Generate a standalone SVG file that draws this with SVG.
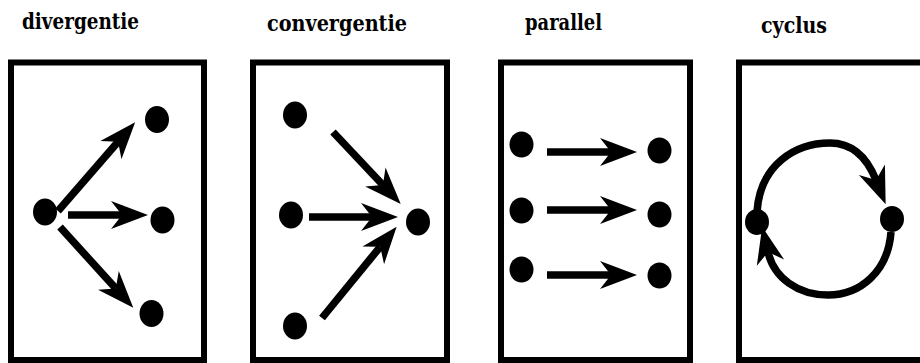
<svg xmlns="http://www.w3.org/2000/svg" width="920" height="363" viewBox="0 0 920 363">
<style>
.box{fill:none;stroke:#000;stroke-width:6}
.node{fill:#000}
.edge{fill:none;stroke:#000;stroke-width:7.5;marker-end:url(#ah)}
.lbl{font-family:"DejaVu Serif","Liberation Serif",serif;font-weight:bold;font-size:23px;fill:#000}
</style>
<defs>
<marker id="ah" markerUnits="userSpaceOnUse" markerWidth="46" markerHeight="34" viewBox="-13 -17 46 34" refX="0" refY="0" orient="auto" overflow="visible">
<path d="M26,0 L-11,-14 L0,0 L-11,14 Z" fill="#000"/>
</marker>
</defs>
<rect width="920" height="363" fill="#fff"/>
<g id="labels">
<text class="lbl" x="22" y="29" textLength="117" lengthAdjust="spacingAndGlyphs">divergentie</text>
<text class="lbl" x="267" y="31" textLength="140" lengthAdjust="spacingAndGlyphs">convergentie</text>
<text class="lbl" x="525" y="30" textLength="77" lengthAdjust="spacingAndGlyphs">parallel</text>
<text class="lbl" x="761" y="33" textLength="66" lengthAdjust="spacingAndGlyphs">cyclus</text>
</g>
<g id="panel-divergentie">
<rect class="box" x="11" y="62.5" width="193" height="297.5"/>
<g id="d-src"><ellipse class="node" cx="45" cy="212" rx="12" ry="13.5"/></g>
<g id="d-t1"><ellipse class="node" cx="157" cy="119.5" rx="12" ry="13.5"/></g>
<g id="d-t2"><ellipse class="node" cx="162.5" cy="220" rx="12" ry="13.5"/></g>
<g id="d-t3"><ellipse class="node" cx="151.5" cy="313.5" rx="12" ry="13.5"/></g>
</g>
<g id="panel-convergentie">
<rect class="box" x="253" y="62.5" width="194" height="297.5"/>
<g id="c-s1"><ellipse class="node" cx="295" cy="115" rx="12" ry="13.5"/></g>
<g id="c-s2"><ellipse class="node" cx="291" cy="215" rx="12" ry="13.5"/></g>
<g id="c-s3"><ellipse class="node" cx="295" cy="326" rx="12" ry="13.5"/></g>
<g id="c-t"><ellipse class="node" cx="418" cy="222" rx="12" ry="13.5"/></g>
</g>
<g id="panel-parallel">
<rect class="box" x="501" y="62.5" width="189" height="297.5"/>
<g id="p-s1"><ellipse class="node" cx="521.5" cy="144.5" rx="12" ry="13"/></g>
<g id="p-s2"><ellipse class="node" cx="521.5" cy="210.5" rx="12" ry="13"/></g>
<g id="p-s3"><ellipse class="node" cx="521.5" cy="269.5" rx="12" ry="13"/></g>
<g id="p-t1"><ellipse class="node" cx="659.5" cy="150.5" rx="12" ry="13"/></g>
<g id="p-t2"><ellipse class="node" cx="659.5" cy="214.5" rx="12" ry="13"/></g>
<g id="p-t3"><ellipse class="node" cx="659.5" cy="275.5" rx="12" ry="13"/></g>
</g>
<g id="panel-cyclus">
<path class="box" d="M739,363 V62.5 H923"/>
<path class="box" d="M739,360 H923"/>
<g id="y-a"><ellipse class="node" cx="757" cy="222" rx="12" ry="13"/></g>
<g id="y-b"><ellipse class="node" cx="892" cy="219" rx="12" ry="13"/></g>
</g>
<g id="connectors">
<line class="edge" x1="58" y1="211" x2="118.1" y2="141.8"/>
<line class="edge" x1="68" y1="215" x2="122" y2="215"/>
<line class="edge" x1="60" y1="227" x2="115.8" y2="288.5"/>
<line class="edge" x1="333" y1="132" x2="382.9" y2="185"/>
<line class="edge" x1="309" y1="217" x2="372" y2="217"/>
<line class="edge" x1="322" y1="318" x2="380.2" y2="246.8"/>
<line class="edge" x1="547" y1="152" x2="611" y2="152"/>
<line class="edge" x1="547" y1="210" x2="611" y2="210"/>
<line class="edge" x1="547" y1="275" x2="611" y2="275"/>
<path class="edge" d="M757,212 C760,165 795,143 830,143 C855,143 868,160 876,180"/>
<path class="edge" d="M891,232 C888,272 860,295 828,295 C798,295 774,278 768,252"/>
</g>
</svg>
